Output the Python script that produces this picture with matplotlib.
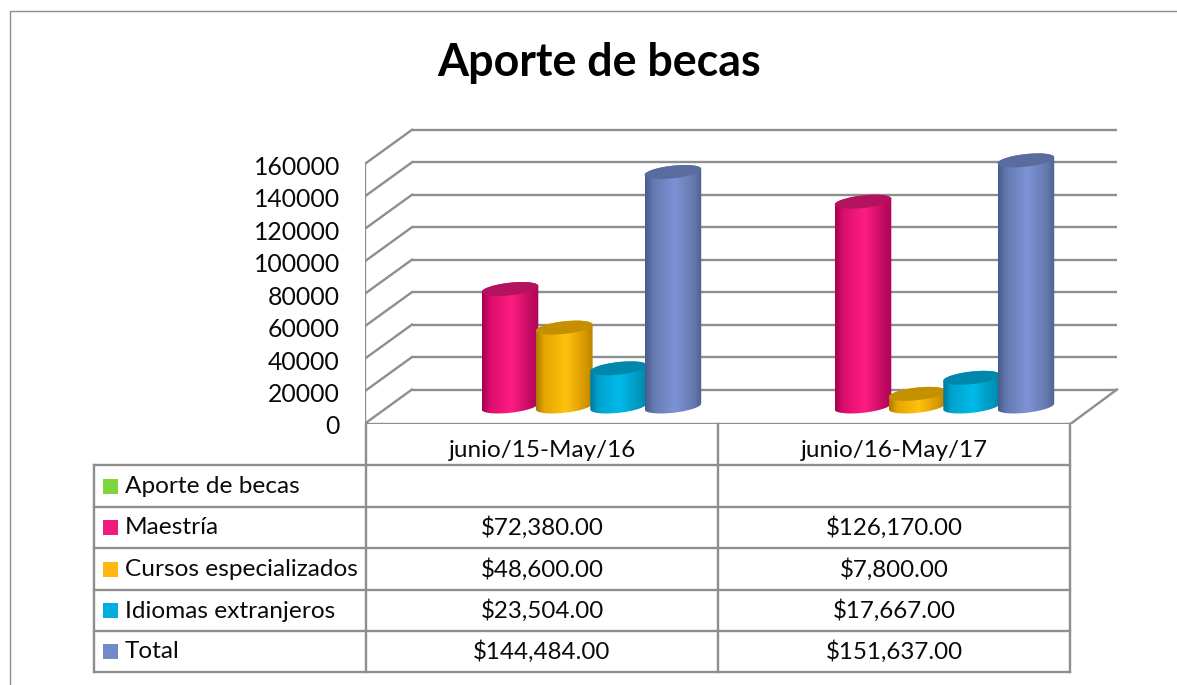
import numpy as np
import matplotlib
matplotlib.use("Agg")
import matplotlib.pyplot as plt
from matplotlib.colors import LinearSegmentedColormap
from matplotlib.patches import Polygon, Rectangle

# ---- data
title = "Aporte de becas"
categories = ["junio/15-May/16", "junio/16-May/17"]
series_names = ["Aporte de becas", "Maestría", "Cursos especializados", "Idiomas extranjeros", "Total"]
aporte = [None, None]
maestria = [72380.00, 126170.00]
cursos = [48600.00, 7800.00]
idiomas = [23504.00, 17667.00]
total = [144484.00, 151637.00]
y_ticks = [0, 20000, 40000, 60000, 80000, 100000, 120000, 140000, 160000]

# ---- styles
W, H = 1177, 685
GRID = "#8e8e8e"
LW = 1.7
FONT = "Lato"
TXT = "#0a0a0a"
swatch = ["#7FD63C", "#EE1A7E", "#FFB60F", "#00AEDF", "#7389C8"]
shades = [None,
          ("#A0004F", "#DA0E6C", "#FF1C82", "#C00A60", "#B0055A"),
          ("#A87800", "#E6A400", "#FFC20E", "#D89800", "#B98400"),
          ("#00789C", "#00A2CC", "#00BAEA", "#0096BE", "#0088A8"),
          ("#465A8C", "#6478B0", "#7E93D6", "#6478AE", "#4E6092")]
tops = [None, "#B3125F", "#C49000", "#0088AC", "#5A6B9E"]

fig = plt.figure(figsize=(W / 100, H / 100), dpi=100, facecolor="white")

# page axes in pixel units: frame, table grid and text
pg = fig.add_axes([0, 0, 1, 1], zorder=3)
pg.set_xlim(0, W)
pg.set_ylim(H, 0)
pg.axis("off")
pg.patch.set_alpha(0)

# chart axes: x in category units, y in value units
PX_CAT = 353.0
PX_VAL = 259.7 / 160000
X0, Y0, XR, YT = 365.0, 423.5, 1125.0, 120.0
ax = fig.add_axes([X0 / W, 1 - Y0 / H, (XR - X0) / W, (Y0 - YT) / H], zorder=2)
ax.set_xlim(0, (XR - X0) / PX_CAT)
ax.set_ylim(0, (Y0 - YT) / PX_VAL)
ax.axis("off")

dx = lambda px: px / PX_CAT
dy = lambda px: px / PX_VAL

BX, BY = dx(47), dy(34)
xend = dx(1117 - X0)
for v in y_ticks:
    ax.plot([BX, xend], [v + BY, v + BY], color=GRID, lw=LW, zorder=1, solid_capstyle="butt")
    ax.plot([0, BX], [v, v + BY], color=GRID, lw=LW, zorder=1)
    ax.text(-dx(25), v - dy(1.5), str(v), ha="right", va="center_baseline", fontsize=17.8,
            family=FONT, color=TXT)
ax.plot([0, 0], [0, y_ticks[-1]], color=GRID, lw=LW, zorder=1)
ax.plot([0, 2], [0, 0], color=GRID, lw=LW, zorder=1)
ax.plot([2, xend], [0, BY], color=GRID, lw=LW, zorder=1)

# cylinders
values = [maestria, cursos, idiomas, total]
SLOT0, PITCH = dx(145), dx(54.3)
A, SH, B, BASE = dx(28.3), dy(3.0), dy(6.3), dy(17)
t_low = np.linspace(np.pi, 2 * np.pi, 60)
t_up = np.linspace(0, np.pi, 60)
t_all = np.linspace(0, 2 * np.pi, 120)
grad = np.linspace(0, 1, 256).reshape(1, -1)


def arc(cx, cy, t):
    return np.column_stack([cx + A * np.cos(t), cy + SH * np.cos(t) + B * np.sin(t)])


z = 2
for c in range(len(categories)):
    for s, vals in enumerate(values):
        cx = c + SLOT0 + s * PITCH
        v = vals[c]
        base = BASE
        top = BASE + v
        body = np.vstack([arc(cx, base, t_low), arc(cx, top, t_up)])
        st = shades[s + 1]
        cmap = LinearSegmentedColormap.from_list(
            "c", [(0, st[0]), (0.14, st[1]), (0.52, st[2]), (0.86, st[3]), (1, st[4])])
        im = ax.imshow(grad, cmap=cmap, aspect="auto", interpolation="bilinear", zorder=z,
                       extent=[cx - A, cx + A, base - dy(10), top + dy(10)])
        im.set_clip_path(Polygon(body, closed=True, transform=ax.transData))
        ax.add_patch(Polygon(arc(cx, top, t_all), closed=True, fc=tops[s + 1], ec="none", zorder=z + 0.5))
        z += 1
ax.set_xlim(0, (XR - X0) / PX_CAT)
ax.set_ylim(0, (Y0 - YT) / PX_VAL)

# frame
pg.plot([10, 10, W], [H, 11, 11], color="#8c8c8c", lw=1.0, solid_joinstyle="miter")

# title
pg.text(599, 63, title, ha="center", va="center", fontsize=32.2, fontweight="bold", family=FONT, color="black")

# data table
rows_y = [465, 507, 548, 590, 631, 672]
cols_x = [94, 366, 718, 1070]
for x in cols_x[1:]:
    pg.plot([x, x], [424, rows_y[-1]], color=GRID, lw=LW)
pg.plot([cols_x[0], cols_x[0]], [rows_y[0], rows_y[-1]], color=GRID, lw=LW)
for y in rows_y:
    pg.plot([cols_x[0], cols_x[-1]], [y, y], color=GRID, lw=LW)

centers = [(cols_x[1] + cols_x[2]) / 2, (cols_x[2] + cols_x[3]) / 2]
for xc, cat in zip(centers, categories):
    pg.text(xc, 450.5, cat, ha="center", va="center", fontsize=17.5, family=FONT, color=TXT)

table_vals = [aporte, maestria, cursos, idiomas, total]
for r, name in enumerate(series_names):
    ym = (rows_y[r] + rows_y[r + 1]) / 2
    pg.add_patch(Rectangle((103, ym - 7.5), 15, 15, fc=swatch[r], ec="none"))
    pg.text(125, ym + 0.5, name, ha="left", va="center", fontsize=17.6, family=FONT, color=TXT)
    for xc, v in zip(centers, table_vals[r]):
        if v is not None:
            pg.text(xc, ym + 0.5, f"${v:,.2f}", ha="center", va="center", fontsize=17.4, family=FONT, color=TXT)

fig.savefig("out.png", dpi=100)
